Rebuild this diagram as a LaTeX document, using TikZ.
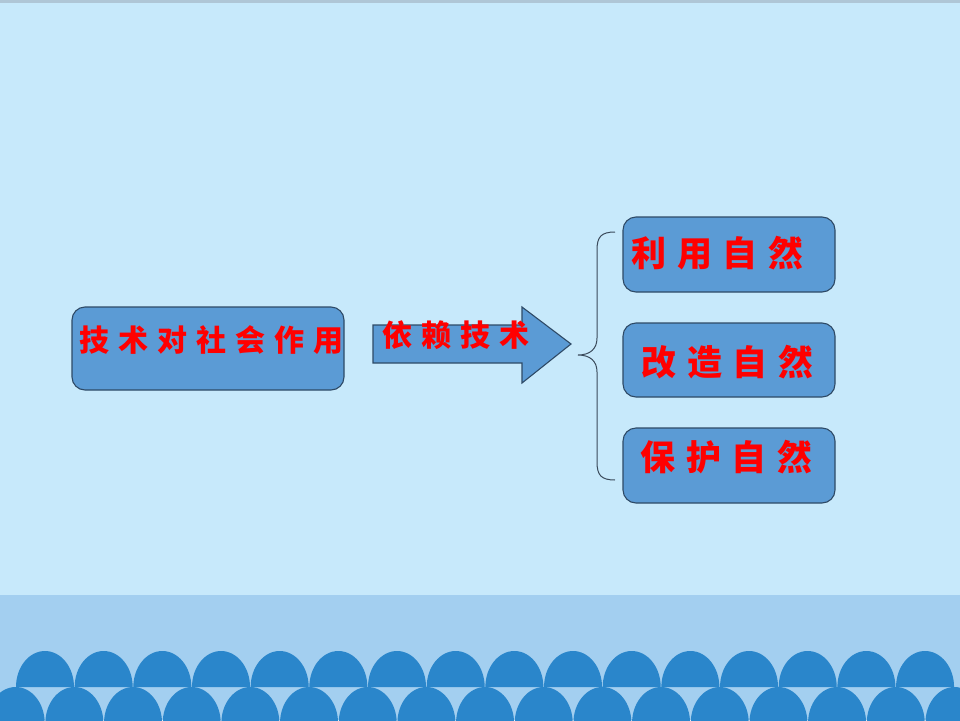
\documentclass[tikz,border=0pt]{standalone}
\usepackage{fontspec}
\newfontfamily\cjk{Noto Sans CJK SC}
\newlength\gaplen
\newcommand\gk{\hspace{\gaplen}}
\definecolor{bgblue}{HTML}{C7E9FB}
\definecolor{bandblue}{HTML}{A3CFF0}
\definecolor{domeblue}{HTML}{2A86CB}
\definecolor{boxfill}{HTML}{5B9BD5}
\definecolor{boxline}{HTML}{2E4A66}
\definecolor{bracecol}{HTML}{3A4A5A}
\definecolor{topline}{HTML}{AFC6D6}
\definecolor{txtred}{HTML}{FF0000}
\begin{document}
\begin{tikzpicture}[x=1pt,y=-1pt,
  box/.style={draw=boxline, fill=boxfill, line width=1.1pt, rounded corners=13pt, inner sep=0pt},
  arrowshape/.style={draw=boxline, fill=boxfill, line width=1.1pt},
  redtxt/.style={text=txtred, inner sep=0pt, font=\cjk\bfseries\fontsize{30}{30}\selectfont},
  bigred/.style={text=txtred, inner sep=0pt, font=\cjk\bfseries\fontsize{35}{35}\selectfont},
  dome/.style={fill=domeblue}]
\useasboundingbox (0,0) rectangle (960,720);
\fill[bgblue] (0,0) rectangle (960,720);
\fill[topline] (0,0) rectangle (960,2.5);
\fill[bandblue] (0,595) rectangle (960,720);
\begin{scope}
\clip (0,0) rectangle (960,720);
\foreach \i in {0,...,16}{
  \fill[dome] ({15.7+58.67*\i-29},723) arc[start angle=180,end angle=360,x radius=29,y radius=36];
}
\foreach \i in {0,...,15}{
  \fill[dome] ({45+58.67*\i-29},687) arc[start angle=180,end angle=360,x radius=29,y radius=36];
}
\end{scope}
% left box
\node[box, minimum width=272pt, minimum height=83pt] (left) at (208,348.5) {};
\node[redtxt] (lefttxt) at (211.5,340) {\setlength\gaplen{9pt}技\gk{}术\gk{}对\gk{}社\gk{}会\gk{}作\gk{}用};
% arrow
\draw[arrowshape] (373,325) -- (522,325) -- (522,307) -- (571,344) -- (522,383) -- (522,363) -- (373,363) -- cycle;
\node[redtxt] (arrtxt) at (456,335) {\setlength\gaplen{9pt}依\gk{}赖\gk{}技\gk{}术};
% brace
\draw[bracecol, line width=1pt] (615,232) .. controls (601,232) and (597,237) .. (597,250)
  -- (597,338) .. controls (597,349) and (590,355) .. (578,355)
  .. controls (590,355) and (597,361) .. (597,372)
  -- (597,462) .. controls (597,475) and (601,480) .. (615,480);
% right boxes
\node[box, minimum width=212pt, minimum height=75pt] (r1) at (729,254.5) {};
\node[box, minimum width=212pt, minimum height=74pt] (r2) at (729,360) {};
\node[box, minimum width=212pt, minimum height=75pt] (r3) at (729,465.5) {};
\node[bigred] (r1txt) at (717.5,253) {\setlength\gaplen{11pt}利\gk{}用\gk{}自\gk{}然};
\node[bigred] (r2txt) at (727.5,362) {\setlength\gaplen{11pt}改\gk{}造\gk{}自\gk{}然};
\node[bigred] (r3txt) at (726.5,457) {\setlength\gaplen{11pt}保\gk{}护\gk{}自\gk{}然};
\end{tikzpicture}
\end{document}
